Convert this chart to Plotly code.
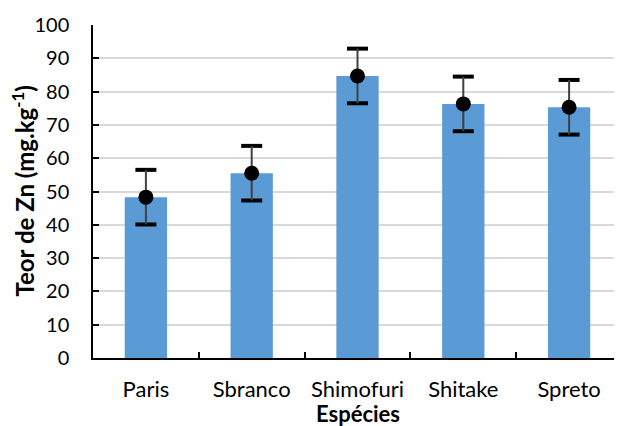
import plotly.graph_objects as go

categories = ["Paris", "Sbranco", "Shimofuri", "Shitake", "Spreto"]
zn_values = [48.3, 55.5, 84.7, 76.3, 75.3]
zn_error = [8.2, 8.2, 8.2, 8.2, 8.2]

FONT = "Lato, 'Open Sans', sans-serif"

cap_y = [v + e for v, e in zip(zn_values, zn_error)] + [v - e for v, e in zip(zn_values, zn_error)]
cap_x = categories + categories

fig = go.Figure()
fig.add_trace(go.Bar(
    x=categories, y=zn_values, width=0.4,
    marker=dict(color="#5B9BD5", line=dict(width=0)),
    showlegend=False, hoverinfo="skip",
))
# caps
fig.add_trace(go.Scatter(
    x=cap_x, y=cap_y, mode="markers",
    marker=dict(symbol="line-ew", size=15, line=dict(color="#000000", width=4)),
    showlegend=False, hoverinfo="skip",
))
# stems + markers
fig.add_trace(go.Scatter(
    x=categories, y=zn_values, mode="markers",
    marker=dict(color="#000000", size=15),
    error_y=dict(type="data", array=zn_error, visible=True,
                 color="#404040", thickness=2, width=0),
    showlegend=False,
))

fig.update_layout(
    width=614, height=418,
    margin=dict(l=85, r=0, t=17, b=68),
    paper_bgcolor="white", plot_bgcolor="white",
    font=dict(family=FONT, size=20, color="#000000"),
    bargap=0.6,
    annotations=[
        dict(text="<b>Espécies</b>", xref="paper", yref="paper", x=0.5, y=0,
             xanchor="center", yanchor="middle", yshift=-55, showarrow=False,
             font=dict(size=22, family=FONT, color="#000000")),
        dict(text="<b>Teor de Zn (mg.kg<sup>-1</sup>)</b>", xref="paper", yref="paper",
             x=0, y=0.5, xanchor="center", yanchor="middle", xshift=-71,
             textangle=-90, showarrow=False,
             font=dict(size=24, family=FONT, color="#000000")),
    ],
)
fig.update_xaxes(
    type="category", automargin=False, showline=True, linecolor="#000000", linewidth=1.5,
    ticks="inside", tickson="boundaries", ticklen=6, tickcolor="#000000",
    tickwidth=1.5, showgrid=False, ticklabelstandoff=11,
    tickfont=dict(size=22, family=FONT),
)
fig.update_yaxes(
    range=[0, 100], dtick=10, automargin=False, showline=True, linecolor="#000000", linewidth=1.5,
    ticks="inside", ticklen=6, tickcolor="#000000", tickwidth=1.5,
    showgrid=True, gridcolor="#D9D9D9", gridwidth=1.5, zeroline=False,
    ticklabelstandoff=18,
    tickfont=dict(size=20, family=FONT),
)

fig.write_html("out.html")
